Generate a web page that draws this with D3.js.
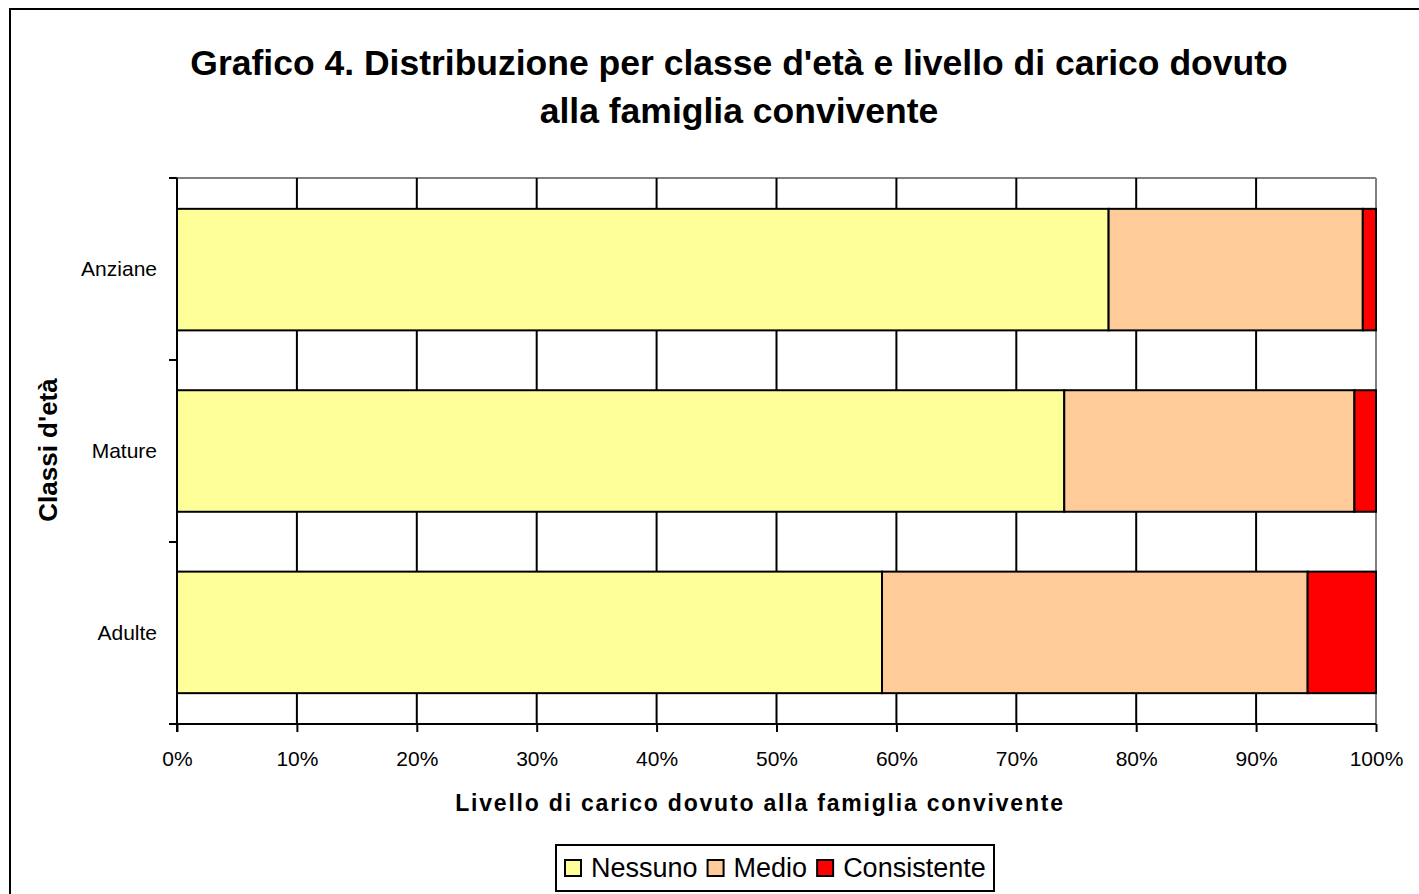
<!DOCTYPE html>
<html>
<head>
  <meta charset="utf-8">
  <title>Grafico 4</title>
  <script src="https://cdn.jsdelivr.net/npm/d3@7/dist/d3.min.js"></script>
  <style>
    body { margin: 0; background: #fff; }
    text { font-family: "Liberation Sans", Arial, sans-serif; }
  </style>
</head>
<body>
<svg id="chart"></svg>
<script>
  // data (percent)
  var categories = ["Anziane", "Mature", "Adulte"];
  var series = ["Nessuno", "Medio", "Consistente"];
  var nessuno = [77.7, 74.0, 58.8];
  var medio = [21.2, 24.2, 35.5];
  var consistente = [1.1, 1.8, 5.7];
  var xTicks = [0, 10, 20, 30, 40, 50, 60, 70, 80, 90, 100];
  var colors = ["#ffff99", "#ffcc99", "#ff0000"];

  var width = 1419, height = 894;
  var margin = {left: 177, right: 1376, top: 178, bottom: 724};

  var svg = d3.select("#chart").attr("width", width).attr("height", height);

  // outer chart border
  svg.append("rect")
     .attr("x", 10).attr("y", 9)
     .attr("width", width).attr("height", height)
     .attr("fill", "#fff").attr("stroke", "#000").attr("stroke-width", 2);

  var rows = categories.map(function(c, i) {
    return {cat: c, Nessuno: nessuno[i], Medio: medio[i], Consistente: consistente[i]};
  });
  var stacked = d3.stack().keys(series)(rows);

  var x = d3.scaleLinear().domain([0, 100]).range([margin.left, margin.right]);
  var y = d3.scaleBand().domain(categories)
      .range([margin.top, margin.bottom]).paddingInner(0.33).paddingOuter(0.17);
  var yBand = d3.scaleBand().domain(categories).range([margin.top, margin.bottom]);

  // plot frame (top/right gray)
  svg.append("line").attr("x1", margin.left).attr("x2", margin.right)
     .attr("y1", margin.top).attr("y2", margin.top)
     .attr("stroke", "#808080").attr("stroke-width", 2);
  svg.append("line").attr("x1", margin.right).attr("x2", margin.right)
     .attr("y1", margin.top).attr("y2", margin.bottom)
     .attr("stroke", "#808080").attr("stroke-width", 2);

  // vertical gridlines
  svg.append("g").selectAll("line")
     .data(xTicks.slice(1, -1)).join("line")
     .attr("x1", function(d) { return x(d); }).attr("x2", function(d) { return x(d); })
     .attr("y1", margin.top).attr("y2", margin.bottom)
     .attr("stroke", "#000").attr("stroke-width", 2);

  // bars
  svg.append("g").selectAll("g")
     .data(stacked).join("g")
     .attr("fill", function(d, i) { return colors[i]; })
     .selectAll("rect")
     .data(function(d) { return d; }).join("rect")
     .attr("x", function(d) { return x(d[0]); })
     .attr("width", function(d) { return x(d[1]) - x(d[0]); })
     .attr("y", function(d) { return y(d.data.cat); })
     .attr("height", y.bandwidth())
     .attr("stroke", "#000").attr("stroke-width", 2);

  // x axis
  var xAxis = svg.append("g")
     .attr("transform", "translate(0," + margin.bottom + ")")
     .call(d3.axisBottom(x).tickValues(xTicks).tickSize(8).tickPadding(19)
       .tickFormat(function(d) { return d + "%"; }));
  xAxis.select(".domain").attr("stroke-width", 2).attr("d",
     "M" + (margin.left - 8) + ",0H" + margin.right);
  xAxis.selectAll(".tick line").attr("stroke-width", 2);
  xAxis.selectAll("text").attr("font-size", 21).attr("fill", "#000")
     .style("font-family", "'Liberation Sans', Arial, sans-serif");

  // y axis (ticks at category boundaries)
  var yAxis = svg.append("g").attr("transform", "translate(" + margin.left + ",0)");
  yAxis.append("line").attr("x1", 0).attr("x2", 0)
     .attr("y1", margin.top).attr("y2", margin.bottom + 8)
     .attr("stroke", "#000").attr("stroke-width", 2);
  var bounds = categories.map(function(c) { return yBand(c); }).concat([margin.bottom]);
  yAxis.selectAll(".bt").data(bounds).join("line")
     .attr("x1", -8).attr("x2", 0)
     .attr("y1", function(d) { return d; }).attr("y2", function(d) { return d; })
     .attr("stroke", "#000").attr("stroke-width", 2);
  yAxis.selectAll(".lab").data(categories).join("text")
     .attr("x", -20)
     .attr("y", function(d) { return yBand(d) + yBand.bandwidth() / 2; })
     .attr("dy", "0.35em").attr("text-anchor", "end")
     .attr("font-size", 21).text(function(d) { return d; });

  // titles
  var title = svg.append("text").attr("text-anchor", "middle")
     .attr("font-size", 35.5).attr("font-weight", "bold");
  title.append("tspan").attr("x", 739).attr("y", 75)
     .text("Grafico 4. Distribuzione per classe d'età e livello di carico dovuto");
  title.append("tspan").attr("x", 739).attr("y", 123).text("alla famiglia convivente");

  svg.append("text").attr("x", 760).attr("y", 811).attr("text-anchor", "middle")
     .attr("font-size", 23).attr("font-weight", "bold").attr("letter-spacing", 1.8)
     .text("Livello di carico dovuto alla famiglia convivente");

  svg.append("text").attr("transform", "translate(57,450) rotate(-90)")
     .attr("text-anchor", "middle").attr("font-size", 26).attr("font-weight", "bold")
     .text("Classi d'età");

  // legend
  var legend = svg.append("g");
  legend.append("rect").attr("x", 556).attr("y", 845).attr("width", 438).attr("height", 46)
     .attr("fill", "#fff").attr("stroke", "#000").attr("stroke-width", 2);
  var cx = 565;
  series.forEach(function(s, i) {
    legend.append("rect").attr("x", cx).attr("y", 860).attr("width", 16).attr("height", 16)
       .attr("fill", colors[i]).attr("stroke", "#000").attr("stroke-width", 2);
    var t = legend.append("text").attr("x", cx + 26).attr("y", 868).attr("dy", "0.35em")
       .attr("font-size", 27).text(s);
    cx = cx + 26 + t.node().getComputedTextLength() + 10;
  });
</script>
</body>
</html>
